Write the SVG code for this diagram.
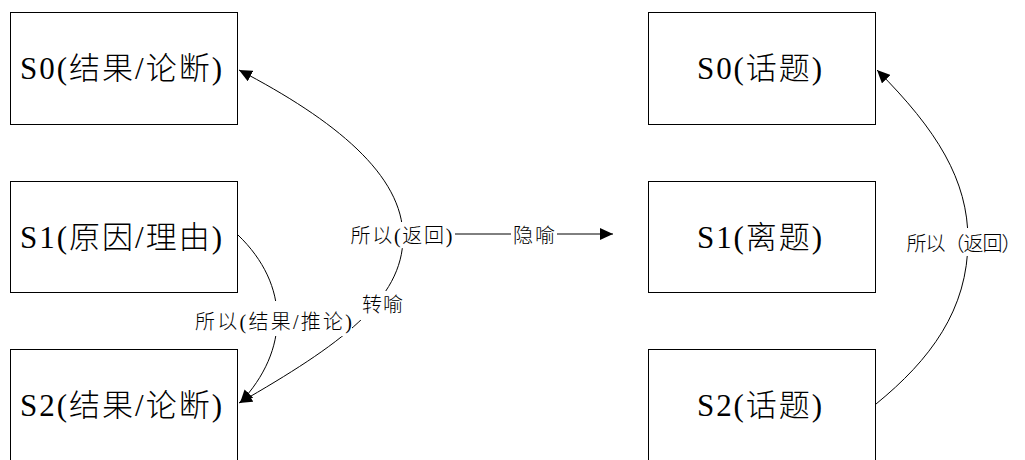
<svg xmlns="http://www.w3.org/2000/svg" width="1025" height="460" viewBox="0 0 1025 460">
  <style>
    .box { fill: #ffffff; stroke: #000000; stroke-width: 1; }
    .title { font-family: "Liberation Serif", "Noto Sans CJK SC", serif; font-size: 31px; font-weight: 300; fill: #000000; }
    .lbl { font-family: "Liberation Serif", "Noto Sans CJK SC", serif; font-size: 20px; font-weight: 300; fill: #000000; }
    .edge { fill: none; stroke: #000000; stroke-width: 1; }
    .bg { fill: #ffffff; stroke: none; }
  </style>
  <defs>
    <marker id="arrow" viewBox="0 0 13 12" refX="13" refY="6" markerWidth="13" markerHeight="12" markerUnits="userSpaceOnUse" orient="auto-start-reverse">
      <path d="M0,0 L13,6 L0,12 z" fill="#000000"/>
    </marker>
  </defs>
  <rect width="1025" height="460" fill="#ffffff"/>

  <!-- left column -->
  <g id="L-S0">
    <rect class="box" x="10.5" y="12.5" width="227" height="112"/>
    <text class="title" x="20" y="79" textLength="202" lengthAdjust="spacing">S0(结果/论断)</text>
  </g>
  <g id="L-S1">
    <rect class="box" x="10.5" y="181.5" width="227" height="111"/>
    <text class="title" x="20" y="247.5" textLength="202" lengthAdjust="spacing">S1(原因/理由)</text>
  </g>
  <g id="L-S2">
    <rect class="box" x="10.5" y="349.5" width="227" height="120"/>
    <text class="title" x="20" y="416" textLength="202" lengthAdjust="spacing">S2(结果/论断)</text>
  </g>

  <!-- right column -->
  <g id="R-S0">
    <rect class="box" x="648.5" y="12.5" width="227" height="112"/>
    <text class="title" x="697" y="79" textLength="125" lengthAdjust="spacing">S0(话题)</text>
  </g>
  <g id="R-S1">
    <rect class="box" x="648.5" y="181.5" width="227" height="111"/>
    <text class="title" x="697" y="247.5" textLength="125" lengthAdjust="spacing">S1(离题)</text>
  </g>
  <g id="R-S2">
    <rect class="box" x="648.5" y="349.5" width="227" height="120"/>
    <text class="title" x="697" y="416" textLength="125" lengthAdjust="spacing">S2(话题)</text>
  </g>

  <g id="connectors">
    <!-- S1 to S2 -->
    <path class="edge" d="M238,235 C290,285 290,350 240,403" marker-end="url(#arrow)"/>
    <!-- S2 back to S0, through the two labels -->
    <path class="edge" d="M239,70 C335,120 403,175 403,237 C403,300 340,345 239,403" marker-start="url(#arrow)" marker-end="url(#arrow)"/>
    <!-- left side to right side -->
    <path class="edge" d="M455,234 L613,234" marker-end="url(#arrow)"/>
    <!-- right S2 back to S0 -->
    <path class="edge" d="M877,70 C937,130 968,180 968,240 C968,310 930,360 876,404" marker-start="url(#arrow)"/>

    <!-- labels -->
    <rect class="bg" x="194" y="301" width="158" height="35"/>
    <text class="lbl" x="195" y="329" textLength="157" lengthAdjust="spacing">所以(结果/推论)</text>

    <rect class="bg" x="360" y="291" width="46" height="29"/>
    <text class="lbl" x="362" y="311.5" textLength="41" lengthAdjust="spacing">转喻</text>

    <rect class="bg" x="349" y="222" width="105" height="26"/>
    <text class="lbl" x="350.5" y="242.5" textLength="102" lengthAdjust="spacing">所以(返回)</text>

    <rect class="bg" x="511" y="222" width="46" height="26"/>
    <text class="lbl" x="513" y="242.5" textLength="42" lengthAdjust="spacing">隐喻</text>

    <rect class="bg" x="905" y="228" width="119" height="28"/>
    <text class="lbl" x="906.5" y="251" font-size="19" textLength="115" lengthAdjust="spacing">所以（返回）</text>
  </g>
</svg>
